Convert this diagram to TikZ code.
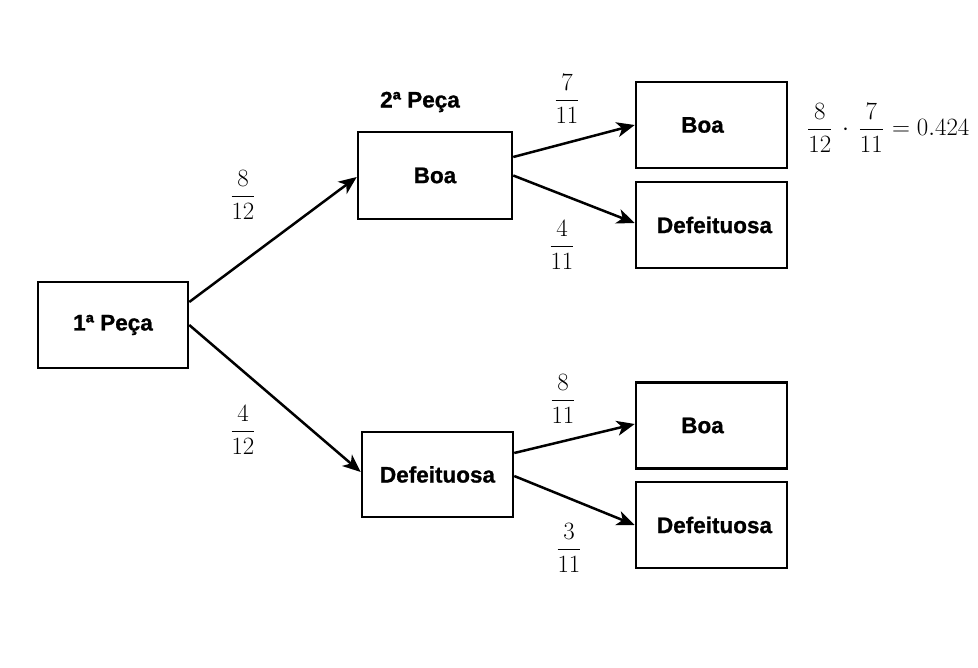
\documentclass[tikz,border=0pt]{standalone}
\usepackage[no-math]{fontspec}
\newfontfamily\boldsans{Liberation Sans}[BoldFeatures={FakeBold=1}]
\usetikzlibrary{arrows.meta}
\newcommand{\dfr}[2]{{\displaystyle\frac{#1}{#2}}}
\begin{document}
\begin{tikzpicture}[x=1pt,y=-1pt,
  box/.style={draw,line width=2.5pt,minimum width=150pt,minimum height=86pt,inner sep=0pt,font=\fontsize{22.5}{27}\selectfont\boldsans\bfseries},
  lbl/.style={font=\fontsize{22.5}{27}\selectfont\boldsans\bfseries,inner sep=0pt},
  frac/.style={font=\fontsize{24.88}{30}\selectfont,inner sep=0pt},
  conn/.style={line width=2.5pt,-{Stealth[length=18pt,width=15pt,inset=5pt]}}]
\useasboundingbox (0,0) rectangle (978,668);
\node[box] (p1) at (113,325) {1ª Peça};
\node[box,minimum width=154pt,minimum height=87pt] (b2) at (435,175.5) {Boa};
\node[box,minimum width=151pt,minimum height=85pt] (d2) at (437.5,474.5) {Defeituosa};
\node[box,minimum width=151pt] (bb) at (711.5,125) {Boa\hspace*{18pt}};
\node[box,minimum width=151pt] (bd) at (711.5,225) {\hspace*{6pt}Defeituosa};
\node[box,minimum width=151pt] (db) at (711.5,425.5) {Boa\hspace*{18pt}};
\node[box,minimum width=151pt] (dd) at (711.5,525) {\hspace*{6pt}Defeituosa};
\node[lbl] (t2) at (420,102) {2ª Peça};
\node[frac] (f1) at (243,195) {$\dfr{8}{12}$};
\node[frac] (f2) at (243,430) {$\dfr{4}{12}$};
\node[frac] (f3) at (567,99) {$\dfr{7}{11}$};
\node[frac] (f4) at (562,245) {$\dfr{4}{11}$};
\node[frac] (f5) at (563,399) {$\dfr{8}{11}$};
\node[frac] (f6) at (569,548) {$\dfr{3}{11}$};
\node[frac,anchor=west] (eq) at (807,128) {$\dfr{8}{12}\mskip3mu\cdot\mskip3mu\dfr{7}{11}\mskip1mu=0.424$};
\draw[conn] ([yshift=23pt]p1.east) -- ([yshift=-1.5pt]b2.west);
\draw[conn] (p1.east) -- ([yshift=2.5pt]d2.west);
\draw[conn] ([yshift=18.5pt]b2.east) -- (bb.west);
\draw[conn] (b2.east) -- ([yshift=2pt]bd.west);
\draw[conn] ([yshift=21.5pt]d2.east) -- ([yshift=1.5pt]db.west);
\draw[conn] ([yshift=-1.5pt]d2.east) -- (dd.west);
\end{tikzpicture}
\end{document}
